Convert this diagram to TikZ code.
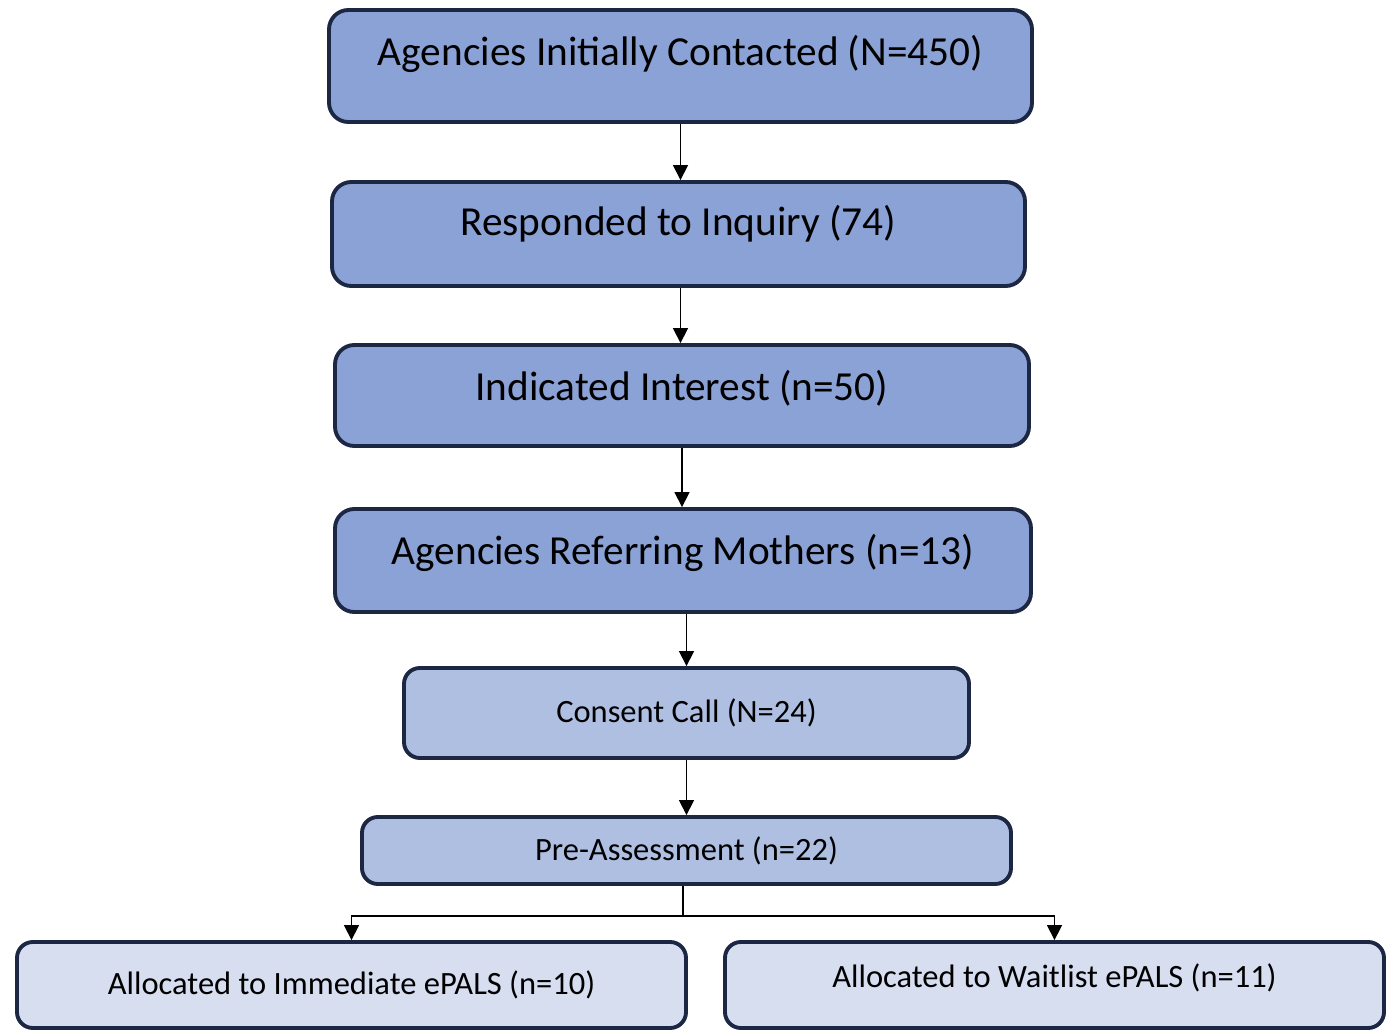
\documentclass[tikz,border=0pt]{standalone}
\usepackage{fontspec}
\setmainfont{Carlito}
\usepackage{tikz}
\usetikzlibrary{positioning, arrows.meta}

\definecolor{boxline}{HTML}{1C2744}
\definecolor{darkfill}{HTML}{8BA2D6}
\definecolor{midfill}{HTML}{AFBFE2}
\definecolor{lightfill}{HTML}{D6DEF0}

\begin{document}
\begin{tikzpicture}[
    stage/.style={draw=boxline, line width=2.2pt, rounded corners=11pt, align=center, inner sep=0pt},
    bigstage/.style={stage, fill=darkfill, font=\fontsize{23.5}{28}\selectfont, text height=18pt},
    smallstage/.style={stage, fill=midfill, font=\fontsize{18.5}{22}\selectfont, rounded corners=9pt},
    endstage/.style={stage, fill=lightfill, font=\fontsize{18.5}{22}\selectfont, rounded corners=9pt},
    arrow/.style={-{Triangle[length=8.5pt, width=8.5pt]}, line width=0.9pt}
]

    \useasboundingbox (0,0) rectangle (27.88,-20.64);

    % Recruitment stages
    \node[bigstage, minimum width=14.06cm, minimum height=2.24cm, text depth=19pt] (contacted) at (13.61,-1.32) {Agencies Initially Contacted (N=450)};
    \node[bigstage, minimum width=13.86cm, minimum height=2.08cm, text depth=16.6pt] (responded) at (13.57,-4.68) {Responded to Inquiry (74)};
    \node[bigstage, minimum width=13.88cm, minimum height=2.02cm, text depth=12.6pt] (interest) at (13.64,-7.91) {Indicated Interest (n=50)};
    \node[bigstage, minimum width=13.92cm, minimum height=2.06cm, text depth=13.8pt] (referring) at (13.66,-11.21) {Agencies Referring Mothers (n=13)};

    % Mothers
    \node[smallstage, minimum width=11.30cm, minimum height=1.80cm] (consent) at (13.73,-14.26) {Consent Call (N=24)};
    \node[smallstage, minimum width=12.98cm, minimum height=1.34cm] (preassess) at (13.73,-17.01) {Pre-Assessment (n=22)};

    % Allocation
    \node[endstage, minimum width=13.38cm, minimum height=1.72cm] (immediate) at (7.03,-19.70) {Allocated to Immediate ePALS (n=10)};
    \node[endstage, minimum width=13.18cm, minimum height=1.72cm, text height=14pt, text depth=11.4pt] (waitlist) at (21.09,-19.70) {Allocated to Waitlist ePALS (n=11)};

    % Arrows
    \draw[arrow] (contacted.south) -- (contacted.south |- responded.north);
    \draw[arrow] ([xshift=0.04cm]responded.south) -- ([xshift=0.04cm]responded.south |- interest.north);
    \draw[arrow] (interest.south) -- (interest.south |- referring.north);
    \draw[arrow] (consent.north |- referring.south) -- (consent.north);
    \draw[arrow] (consent.south) -- (preassess.north);

    % Split
    \draw[line width=0.9pt] ([xshift=-0.07cm]preassess.south) -- ++(0,-0.6) coordinate (split);
    \draw[arrow] (split) -| (immediate.north);
    \draw[arrow] (split) -| (waitlist.north);

\end{tikzpicture}
\end{document}
